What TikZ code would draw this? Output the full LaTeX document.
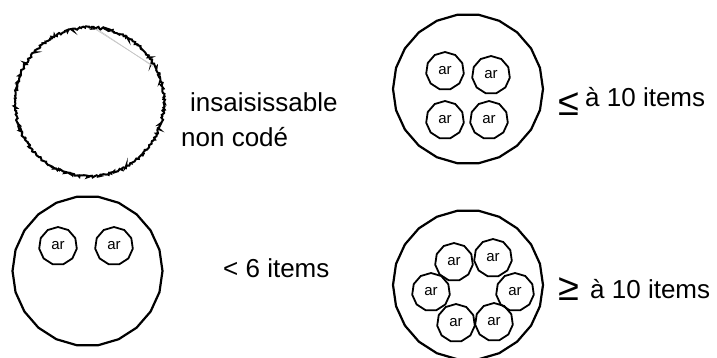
\documentclass[tikz,border=0pt]{standalone}
\usepackage{fontspec}
\setmainfont{Liberation Sans}
\usetikzlibrary{shapes.geometric,decorations.pathmorphing}
\begin{document}
\begin{tikzpicture}[x=1pt,y=-1pt,
  outer/.style={draw,line width=2.2pt,regular polygon,regular polygon sides=22,minimum size=150pt,inner sep=0pt},
  item/.style={draw,line width=1.8pt,regular polygon,regular polygon sides=11,minimum size=38pt,inner sep=0pt,font=\fontsize{15}{17}\selectfont},
  lbl/.style={anchor=base west,inner sep=0pt,font=\fontsize{26}{30}\selectfont},
  sym/.style={inner sep=0pt,font=\fontsize{38}{42}\selectfont}]
\useasboundingbox (0,0) rectangle (717,358);
% top left: rough circle
\coordinate (c1) at (89.5,102);
\draw[line width=2pt,decorate,decoration={random steps,segment length=1.3pt,amplitude=1.2pt}] (c1) circle[radius=74.5pt];
\coordinate (g1) at (95,29);
\coordinate (g2) at (152,65);
\draw[gray!45,line width=0.6pt] (g1) -- (g2);
\draw[gray!45,line width=0.6pt] ([xshift=2pt]g1) -- ([xshift=1pt,yshift=-1.5pt]g2);
\node[lbl] (t1a) at (190,112) {insaisissable};
\node[lbl] (t1b) at (181,147) {non codé};
% bottom left
\node[outer] (o2) at (87.5,271) {};
\node[item] (a21) at (58,246) {ar};
\node[item] (a22) at (114,246) {ar};
\node[lbl] (t2) at (223,277) {< 6 items};
% top right
\node[outer] (o3) at (468,89) {};
\node[item] (a31) at (445,71) {ar};
\node[item] (a32) at (491,75) {ar};
\node[item] (a33) at (445,120) {ar};
\node[item] (a34) at (489,120) {ar};
\node[sym] (s3) at (569,104) {≤};
\node[lbl] (t3) at (585,107) {à 10 items};
% bottom right
\node[outer] (o4) at (468,285) {};
\node[item] (a41) at (454,262) {ar};
\node[item] (a42) at (493,258) {ar};
\node[item] (a43) at (431,292) {ar};
\node[item] (a44) at (515,292) {ar};
\node[item] (a45) at (456,323) {ar};
\node[item] (a46) at (494,322) {ar};
\node[sym] (s4) at (569,289) {≥};
\node[lbl] (t4) at (590,298) {à 10 items};
\end{tikzpicture}
\end{document}
